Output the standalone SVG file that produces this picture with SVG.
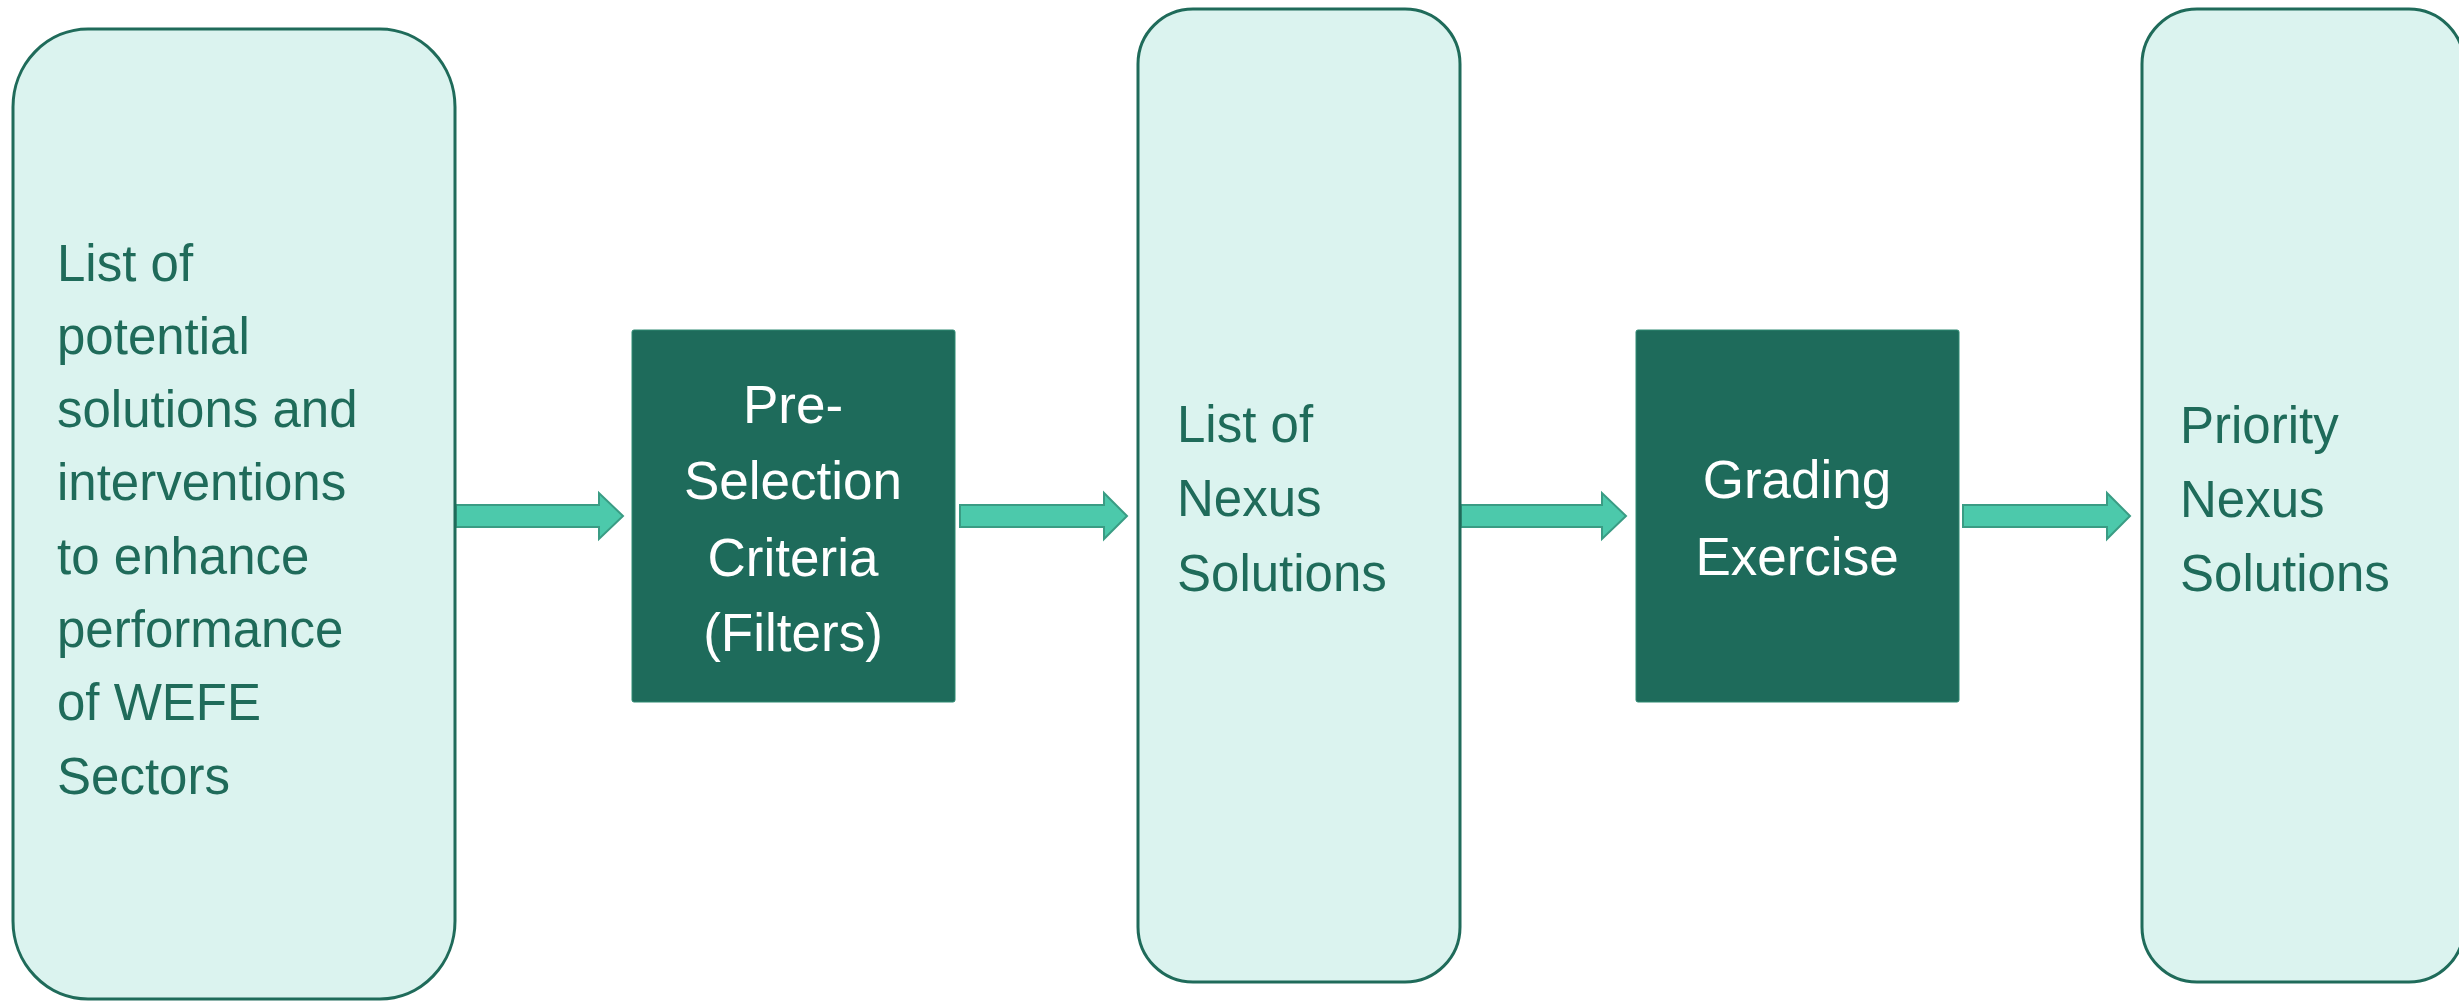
<svg xmlns="http://www.w3.org/2000/svg" width="2459" height="1002" viewBox="0 0 2459 1002">
<defs>
<style>
.light{fill:#DBF3EF;stroke:#1F6B5A;stroke-width:3}
.dark{fill:#1E6B5B;stroke:#2E8A73;stroke-width:1}
.lt{font-family:"Liberation Sans",Arial,sans-serif;font-size:51px;fill:#1F6B5A}
.dt{font-family:"Liberation Sans",Arial,sans-serif;font-size:53px;fill:#FFFFFF;text-anchor:middle}
.arrow{fill:#4CC9AB;stroke:#3A9C84;stroke-width:2}
</style>
</defs>
<rect width="2459" height="1002" fill="#FFFFFF"/>
<g id="connectors">
<path class="arrow" d="M456,505 H599 V493 L623,516 L599,539 V527 H456 Z"/>
<path class="arrow" d="M960,505 H1104 V493 L1127,516 L1104,539 V527 H960 Z"/>
<path class="arrow" d="M1461,505 H1602 V493 L1626,516 L1602,539 V527 H1461 Z"/>
<path class="arrow" d="M1963,505 H2107 V493 L2130,516 L2107,539 V527 H1963 Z"/>
</g>
<g id="node1">
<rect class="light" x="13" y="29" width="442" height="970" rx="75" ry="78"/>
<text class="lt" x="57"><tspan x="57" y="281">List of</tspan><tspan x="57" y="354">potential</tspan><tspan x="57" y="427">solutions and</tspan><tspan x="57" y="500">interventions</tspan><tspan x="57" y="574">to enhance</tspan><tspan x="57" y="647">performance</tspan><tspan x="57" y="720">of WEFE</tspan><tspan x="57" y="794">Sectors</tspan></text>
</g>
<g id="node2">
<rect class="dark" x="632" y="330" width="323" height="372" rx="2"/>
<text class="dt"><tspan x="793" y="423">Pre-</tspan><tspan x="793" y="499">Selection</tspan><tspan x="793" y="576">Criteria</tspan><tspan x="793" y="651">(Filters)</tspan></text>
</g>
<g id="node3">
<rect class="light" x="1138" y="9" width="322" height="973" rx="55" ry="55"/>
<text class="lt"><tspan x="1177" y="442">List of</tspan><tspan x="1177" y="516">Nexus</tspan><tspan x="1177" y="591">Solutions</tspan></text>
</g>
<g id="node4">
<rect class="dark" x="1636" y="330" width="323" height="372" rx="2"/>
<text class="dt"><tspan x="1797" y="498">Grading</tspan><tspan x="1797" y="575">Exercise</tspan></text>
</g>
<g id="node5">
<rect class="light" x="2142" y="9" width="322" height="973" rx="55" ry="55"/>
<text class="lt"><tspan x="2180" y="443">Priority</tspan><tspan x="2180" y="517">Nexus</tspan><tspan x="2180" y="591">Solutions</tspan></text>
</g>
</svg>
